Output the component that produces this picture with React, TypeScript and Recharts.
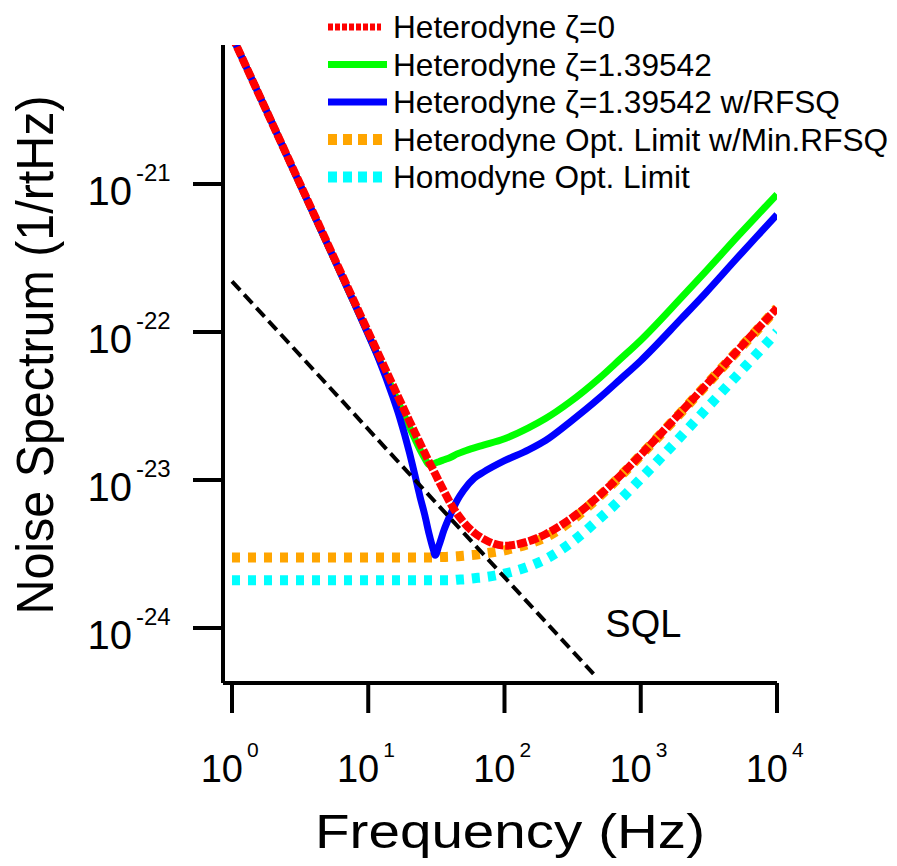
import React from 'react';
import { LineChart, Line, XAxis, YAxis, Legend, ReferenceDot } from 'recharts';

// ---------- data ----------
const frequencies = [
  1, 1.5, 2, 3, 5, 7, 10, 12, 15, 17, 20, 22, 24, 26, 28, 30, 31, 33, 36, 40,
  45, 50, 60, 70, 100, 150, 200, 300, 500, 700, 1000, 2000, 3000, 5000, 7000, 10000,
];

const heterodyneZeta0 = [
  1.0e-20, 4.45e-21, 2.5e-21, 1.11e-21, 4.0e-22, 2.04e-22, 1.0e-22, 6.95e-23, 4.45e-23, 3.47e-23,
  2.52e-23, 2.09e-23, 1.77e-23, 1.52e-23, 1.32e-23, 1.17e-23, 1.1e-23, 9.8e-24, 8.4e-24, 7.0e-24,
  5.9e-24, 5.2e-24, 4.4e-24, 4.0e-24, 3.6e-24, 3.85e-24, 4.3e-24, 5.4e-24, 7.9e-24, 1.06e-23,
  1.48e-23, 2.92e-23, 4.36e-23, 7.3e-23, 1.02e-22, 1.45e-22,
];

const heterodyneZeta139 = [
  1.0e-20, 4.45e-21, 2.5e-21, 1.1e-21, 3.95e-22, 2.0e-22, 9.7e-23, 6.6e-23, 4.15e-23, 3.2e-23,
  2.3e-23, 1.9e-23, 1.6e-23, 1.4e-23, 1.27e-23, 1.28e-23, 1.3e-23, 1.33e-23, 1.37e-23, 1.42e-23,
  1.5e-23, 1.56e-23, 1.65e-23, 1.72e-23, 1.9e-23, 2.25e-23, 2.6e-23, 3.35e-23, 4.9e-23, 6.5e-23,
  8.8e-23, 1.72e-22, 2.57e-22, 4.3e-22, 6.0e-22, 8.5e-22,
];

const heterodyneZeta139Rfsq = [
  1.0e-20, 4.45e-21, 2.5e-21, 1.1e-21, 3.95e-22, 2.0e-22, 9.6e-23, 6.5e-23, 3.75e-23, 2.65e-23,
  1.55e-23, 1.08e-23, 7.7e-24, 5.8e-24, 4.3e-24, 3.4e-24, 3.1e-24, 3.6e-24, 4.6e-24, 5.8e-24,
  7.3e-24, 8.5e-24, 1.03e-23, 1.13e-23, 1.35e-23, 1.6e-23, 1.85e-23, 2.45e-23, 3.6e-23, 4.75e-23,
  6.4e-23, 1.24e-22, 1.84e-22, 3.1e-22, 4.35e-22, 6.2e-22,
];

const heterodyneOptLimit = [
  3.0e-24, 3.0e-24, 3.0e-24, 3.0e-24, 3.0e-24, 3.0e-24, 3.0e-24, 3.0e-24, 3.0e-24, 3.0e-24,
  3.0e-24, 3.0e-24, 3.0e-24, 3.0e-24, 3.0e-24, 3.0e-24, 3.0e-24, 3.01e-24, 3.02e-24, 3.03e-24,
  3.05e-24, 3.08e-24, 3.12e-24, 3.18e-24, 3.35e-24, 3.7e-24, 4.1e-24, 5.2e-24, 7.8e-24, 1.05e-23,
  1.47e-23, 2.9e-23, 4.35e-23, 7.25e-23, 1.01e-22, 1.45e-22,
];

const homodyneOptLimit = [
  2.1e-24, 2.1e-24, 2.1e-24, 2.1e-24, 2.1e-24, 2.1e-24, 2.1e-24, 2.1e-24, 2.1e-24, 2.1e-24,
  2.1e-24, 2.1e-24, 2.1e-24, 2.1e-24, 2.1e-24, 2.1e-24, 2.1e-24, 2.1e-24, 2.1e-24, 2.1e-24,
  2.12e-24, 2.13e-24, 2.17e-24, 2.2e-24, 2.33e-24, 2.6e-24, 2.92e-24, 3.7e-24, 5.5e-24, 7.3e-24,
  1.02e-23, 2.0e-23, 3.0e-23, 5.0e-23, 7.0e-23, 1.0e-22,
];

const sqlFrequencies = [1, 450];
const sqlValues = [2.2e-22, 4.9e-25];

const xTicks = [1, 10, 100, 1000, 10000];
const yTicks = [1e-24, 1e-23, 1e-22, 1e-21];
const xDomain = [0.859, 10000];
const yDomain = [4.25e-25, 8.69e-21];

const sqlLabelText = 'SQL';
const sqlLabelFreq = 550;
const sqlLabelLevel = 1e-24;

const seriesNames = {
  het0: 'Heterodyne ζ=0',
  het139: 'Heterodyne ζ=1.39542',
  het139r: 'Heterodyne ζ=1.39542 w/RFSQ',
  hetOpt: 'Heterodyne Opt. Limit w/Min.RFSQ',
  homOpt: 'Homodyne Opt. Limit',
};

// ---------- derived tables ----------
const chartData = frequencies.map((f, i) => ({
  f,
  het0: heterodyneZeta0[i],
  het139: heterodyneZeta139[i],
  het139r: heterodyneZeta139Rfsq[i],
  hetOpt: heterodyneOptLimit[i],
  homOpt: homodyneOptLimit[i],
}));

const sqlData = sqlFrequencies.map((f, i) => ({ f, sql: sqlValues[i] }));

const FONT = '"Liberation Sans", Arial, Helvetica, sans-serif';

const legendItems = [
  { key: 'het0', color: '#ff0000', width: 7, dash: '5 2', end: 381 },
  { key: 'het139', color: '#00ff00', width: 7, dash: undefined, end: 387 },
  { key: 'het139r', color: '#0000ff', width: 7, dash: undefined, end: 387 },
  { key: 'hetOpt', color: '#ffa500', width: 11, dash: '9 6', end: 384 },
  { key: 'homOpt', color: '#00ffff', width: 11, dash: '9 6', end: 384 },
];

const LEG_LEFT = 320;

const LegendContent = () => (
  <svg width={577} height={200} style={{ display: 'block', overflow: 'visible' }}>
    {legendItems.map((it, i) => {
      const cy = 27 + i * 37.5;
      return (
        <g key={it.key}>
          <line
            x1={328 - LEG_LEFT}
            x2={it.end - LEG_LEFT}
            y1={cy}
            y2={cy}
            stroke={it.color}
            strokeWidth={it.width}
            strokeDasharray={it.dash}
          />
          <text x={393 - LEG_LEFT} y={cy + 11} fontSize={31.6} fontFamily={FONT} fill="#000">
            {(seriesNames as any)[it.key]}
          </text>
        </g>
      );
    })}
  </svg>
);

const YTick = (props: any) => {
  const { x, y, payload } = props;
  const exp = Math.round(Math.log10(payload.value));
  return (
    <g>
      <text x={x - 38} y={y + 21} textAnchor="end" fontSize={40} fontFamily={FONT} fill="#000">10</text>
      <text x={x - 34} y={y - 3} fontSize={24} fontFamily={FONT} fill="#000">{exp}</text>
    </g>
  );
};

const XTick = (props: any) => {
  const { x, y, payload } = props;
  const exp = Math.round(Math.log10(payload.value));
  return (
    <g>
      <text x={x + 11} y={y + 69} textAnchor="end" fontSize={38} fontFamily={FONT} fill="#000">10</text>
      <text x={x + 15} y={y + 44} fontSize={21} fontFamily={FONT} fill="#000">{exp}</text>
    </g>
  );
};

const XLabel = (props: any) => {
  const vb = props.viewBox || { x: 223, y: 683, width: 554, height: 183 };
  const cx = vb.x + vb.width / 2 + 10;
  return (
    <text x={cx} y={vb.y + 165} textAnchor="middle" fontSize={49} fontFamily={FONT} fill="#000"
      textLength={390} lengthAdjust="spacingAndGlyphs">Frequency (Hz)</text>
  );
};

const YLabel = (props: any) => {
  const vb = props.viewBox || { x: 0, y: 45, width: 223, height: 638 };
  const cx = 53;
  const cy = vb.y + vb.height / 2 - 9;
  return (
    <text x={cx} y={cy} transform={`rotate(-90, ${cx}, ${cy})`} textAnchor="middle" fontSize={52}
      fontFamily={FONT} fill="#000" textLength={519} lengthAdjust="spacingAndGlyphs">
      Noise Spectrum (1/rtHz)
    </text>
  );
};

const SqlText = (props: any) => (
  <text x={props.cx} y={props.cy + 9} fontSize={38} fontFamily={FONT} fill="#000">{sqlLabelText}</text>
);

const axisStroke = { stroke: '#000', strokeWidth: 4 };

export default function App() {
  return (
    <div style={{ position: 'absolute', left: 0, top: 0, width: 897, height: 866, background: '#fff' }}>
      <LineChart
        width={897}
        height={866}
        data={chartData}
        margin={{ top: 45, right: 120, bottom: 0, left: 0 }}
        style={{ fontFamily: FONT }}
      >
        <XAxis
          dataKey="f"
          type="number"
          scale="log"
          domain={xDomain}
          allowDataOverflow
          ticks={xTicks}
          interval={0}
          height={183}
          tickSize={30}
          tickMargin={0}
          axisLine={axisStroke}
          tickLine={axisStroke}
          tick={<XTick />}
          label={<XLabel />}
        />
        <YAxis
          type="number"
          scale="log"
          domain={yDomain}
          allowDataOverflow
          ticks={yTicks}
          interval={0}
          width={223}
          tickSize={30}
          tickMargin={23}
          axisLine={axisStroke}
          tickLine={axisStroke}
          tick={<YTick />}
          label={<YLabel />}
        />
        <Legend
          layout="horizontal"
          verticalAlign="middle"
          align="center"
          wrapperStyle={{ left: LEG_LEFT, top: 0, width: 577, height: 200 }}
          content={<LegendContent />}
        />
        <Line dataKey="homOpt" name={seriesNames.homOpt} type="monotone" stroke="#00ffff" strokeWidth={10}
          strokeDasharray="8 8" dot={false} activeDot={false} isAnimationActive={false} />
        <Line dataKey="hetOpt" name={seriesNames.hetOpt} type="monotone" stroke="#ffa500" strokeWidth={10}
          strokeDasharray="8 8" dot={false} activeDot={false} isAnimationActive={false} />
        <Line dataKey="het139" name={seriesNames.het139} type="monotone" stroke="#00ff00" strokeWidth={7}
          dot={false} activeDot={false} isAnimationActive={false} />
        <Line dataKey="het139r" name={seriesNames.het139r} type="monotone" stroke="#0000ff" strokeWidth={7}
          dot={false} activeDot={false} isAnimationActive={false} />
        <Line data={sqlData} dataKey="sql" name="SQL" type="linear" stroke="#000" strokeWidth={4}
          strokeDasharray="12 6" dot={false} activeDot={false} isAnimationActive={false} legendType="none" />
        <Line dataKey="het0" name={seriesNames.het0} type="monotone" stroke="#ff0000" strokeWidth={8}
          strokeDasharray="10 2" dot={false} activeDot={false} isAnimationActive={false} />
        <ReferenceDot x={sqlLabelFreq} y={sqlLabelLevel} r={0} shape={<SqlText />} />
      </LineChart>
    </div>
  );
}
